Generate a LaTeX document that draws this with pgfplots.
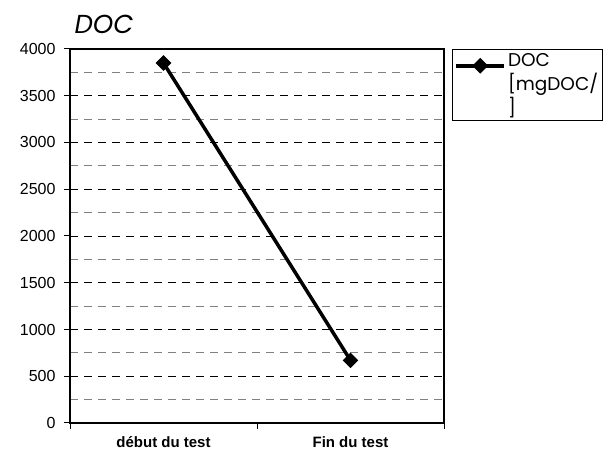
\documentclass[border=0pt]{standalone}
\usepackage{fontspec}
\setmainfont{Liberation Sans}
\newfontfamily\geo{Poppins}
\usepackage{pgfplots}
\pgfplotsset{compat=1.18}
\begin{document}
\begin{tikzpicture}[x=1pt,y=1pt]
\path[use as bounding box] (0,0) rectangle (603,462);
\begin{axis}[
  at={(70pt,39pt)}, anchor=south west, scale only axis,
  width=374pt, height=374pt,
  xmin=-0.5, xmax=1.5, ymin=0, ymax=4000,
  axis line style={line width=2pt},
  tick align=outside,
  xtick pos=bottom, ytick pos=left,
  xtick={-0.5,0.5,1.5}, xticklabels={},
  extra x ticks={0,1},
  extra x tick labels={début du test, Fin du test},
  extra x tick style={major tick length=0pt, tick label style={font=\fontsize{15}{17}\selectfont\bfseries, yshift=-10pt}},
  ytick={0,500,...,4000},
  minor y tick num=1,
  minor tick length=0pt,
  major tick length=6pt,
  tick style={black, line width=1pt},
  ymajorgrids, yminorgrids,
  major grid style={black, line width=0.8pt, dash pattern=on 8pt off 6pt},
  minor grid style={gray, line width=0.8pt, dash pattern=on 8pt off 6pt},
  y tick label style={font=\fontsize{16}{18}\selectfont, xshift=-5pt},
  /pgf/number format/1000 sep={},
  /pgf/number format/assume math mode=true,
  legend style={at={(1.0214,1)}, anchor=north west, draw=black, line width=1pt,
    font=\geo\fontsize{18.5}{24}\selectfont, cells={align=left, anchor=west}, inner sep=2pt},
  legend image code/.code={\path[draw=none, fill=none] (0pt,-24pt) -- (0pt,24pt);
    \draw[#1, mark repeat=2, mark phase=2] plot coordinates {(0pt,19pt) (24pt,19pt) (48pt,19pt)};},
]
\addplot[black, line width=3.5pt, mark=square*, mark size=5pt, mark options={rotate=45, solid, line width=1pt}]
  coordinates {(0,3850) (1,670)};
\addlegendentry{DOC\\{}[mgDOC/\\{}]}
\end{axis}
\node[anchor=base west, font=\geo\fontsize{26}{30}\selectfont\itshape] at (71,428) {DOC};
\end{tikzpicture}
\end{document}
